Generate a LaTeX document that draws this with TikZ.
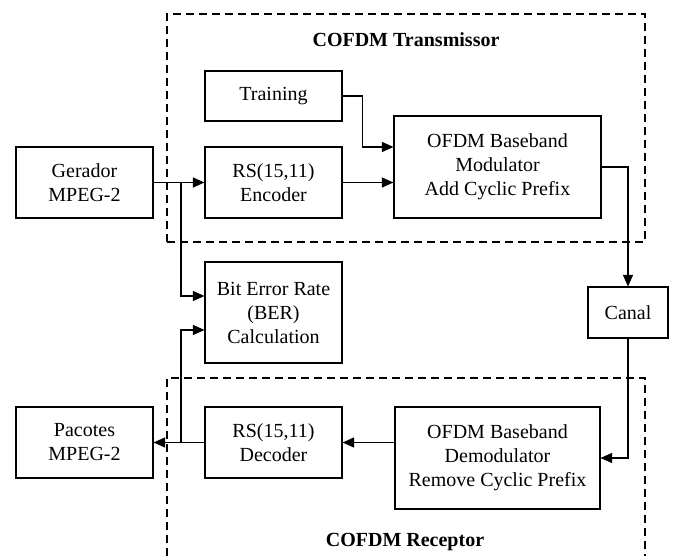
\documentclass[tikz,border=0pt]{standalone}
\usepackage{fontspec}
\setmainfont{Liberation Serif}
\usetikzlibrary{arrows.meta,calc}

\tikzset{
  block/.style={draw, line width=1.1pt, rectangle, align=center, inner sep=0pt,
    font=\fontsize{20}{24}\selectfont},
  arr/.style={line width=1.1pt, -{Triangle[length=11.5pt,width=10pt]}},
  wire/.style={line width=1.1pt},
  group/.style={line width=1.1pt, dash pattern=on 8pt off 5pt},
  grouptitle/.style={font=\fontsize{20}{24}\selectfont\bfseries}
}

\begin{document}
\begin{tikzpicture}[x=1pt,y=-1pt]
\useasboundingbox (0,0) rectangle (675,556);

% dashed group frames
\draw[group] (167,242) rectangle (645,14);
\draw[group] (167,556) -- (167,378) -- (645,378) -- (645,556);
\node[grouptitle] (txtitle) at (406,40) {COFDM Transmissor};
\node[grouptitle] (rxtitle) at (405,542) {COFDM Receptor};

% blocks
\node[block, minimum width=137pt, minimum height=71pt] (gen) at (84.5,182.5) {Gerador\\MPEG-2};
\node[block, minimum width=137pt, minimum height=50pt] (train) at (273.5,96) {Training};
\node[block, minimum width=137pt, minimum height=71pt] (enc) at (273.5,182.5) {RS(15,11)\\Encoder};
\node[block, minimum width=207pt, minimum height=102pt] (mod) at (497.5,167) {OFDM Baseband\\Modulator\\Add Cyclic Prefix};
\node[block, minimum width=137pt, minimum height=101pt] (ber) at (273.5,312.5) {Bit Error Rate\\(BER)\\Calculation};
\node[block, minimum width=80pt, minimum height=51pt] (canal) at (628,312.5) {Canal};
\node[block, minimum width=137pt, minimum height=71pt] (pac) at (84.5,442.5) {Pacotes\\MPEG-2};
\node[block, minimum width=137pt, minimum height=71pt] (dec) at (273.5,442.5) {RS(15,11)\\Decoder};
\node[block, minimum width=205pt, minimum height=102pt] (demod) at (497.5,458) {OFDM Baseband\\Demodulator\\Remove Cyclic Prefix};

% split points on the data paths
\coordinate (txsplit) at (181,182.5);
\coordinate (rxsplit) at (181,442.5);

% transmitter connectors
\draw[arr] (gen.east) -- (enc.west);
\draw[arr] (txsplit) |- ($(ber.west)+(0,-16.5)$);
\draw[arr] (train.east) -- ++(20,0) |- ($(mod.west)+(0,-20)$);
\draw[arr] (enc.east) -- (enc.east -| mod.west);
\draw[arr] (mod.east) -| (canal.north);

% receiver connectors
\draw[arr] (canal.south) |- (demod.east);
\draw[arr] (demod.west |- dec.east) -- (dec.east);
\draw[arr] (dec.west) -- (pac.east);
\draw[arr] (rxsplit) |- ($(ber.west)+(0,17.5)$);
\end{tikzpicture}
\end{document}
